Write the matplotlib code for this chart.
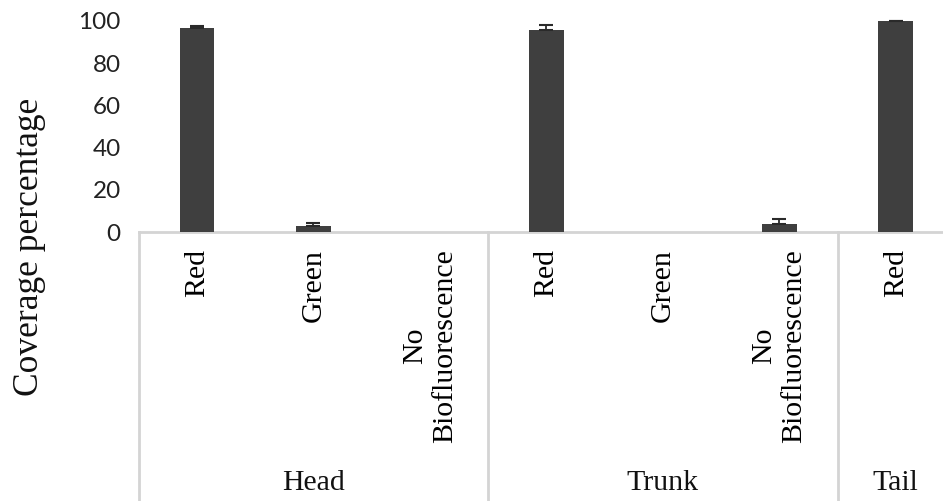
import matplotlib

matplotlib.use("Agg")
import matplotlib.pyplot as plt
import matplotlib.transforms as mtransforms

# Coverage by body region and fluorescence colour
categories = ["Red", "Green", "No\nBiofluorescence",
              "Red", "Green", "No\nBiofluorescence",
              "Red"]
coverage = [96.5, 3.0, 0.0, 95.8, 0.0, 3.8, 99.7]
coverage_err = [1.2, 1.2, 0.0, 2.4, 0.0, 2.3, 0.3]

groups = ["Head", "Trunk", "Tail"]
group_sizes = [3, 3, 1]

y_ticks = [0, 20, 40, 60, 80, 100]

SERIF = "Liberation Serif"
BAR_COLOR = "#3f3f3f"
LINE_COLOR = "#d4d4d4"

fig = plt.figure(figsize=(9.43, 5.01), dpi=100)
fig.patch.set_facecolor("white")

# axes runs slightly past the right edge of the canvas
ax = fig.add_axes([138.75 / 943, 268.7 / 501, 815.25 / 943, 211.6 / 501])
ax.set_facecolor("white")

x = list(range(len(categories)))
ax.bar(x, coverage, width=0.30, color=BAR_COLOR, zorder=3)

# plus-only error bars
has_err = [i for i, e in enumerate(coverage_err) if e > 0]
ax.errorbar(
    [x[i] for i in has_err],
    [coverage[i] for i in has_err],
    yerr=[[0] * len(has_err), [coverage_err[i] for i in has_err]],
    fmt="none", ecolor="#2a2a2a", elinewidth=1.3, capsize=5, capthick=1.5,
    zorder=4, clip_on=False,
)

ax.set_xlim(-0.5, len(categories) - 0.5)
ax.set_ylim(0, 100)

for spine in ax.spines.values():
    spine.set_visible(False)

# y axis: labels only
ax.set_yticks(y_ticks)
ax.set_yticklabels([str(t) for t in y_ticks], family="Lato", fontsize=17.5, color="#222")
ax.tick_params(axis="y", length=0, pad=13)

# category labels, rotated
ax.set_xticks(x)
ax.set_xticklabels(categories, rotation=90, family=SERIF, fontsize=21.5,
                   va="top", ha="center", multialignment="center")
ax.tick_params(axis="x", length=0, pad=12)

# baseline and group dividers below the axis
trans = mtransforms.blended_transform_factory(ax.transData, ax.transAxes)
ax.axhline(0, color=LINE_COLOR, linewidth=2, zorder=2, clip_on=False)
edges = [-0.5]
for n in group_sizes:
    edges.append(edges[-1] + n)
for e in edges[:-1]:
    ax.plot([e, e], [0, -1.4], transform=trans, color=LINE_COLOR,
            linewidth=2, clip_on=False, zorder=2)

# group names
for name, lo, hi in zip(groups, edges[:-1], edges[1:]):
    ax.text((lo + hi) / 2, -1.185, name, transform=trans, ha="center",
            va="center", family=SERIF, fontsize=21.5, color="#111")

fig.text(30 / 943, (501 - 247) / 501, "Coverage percentage", rotation=90,
         ha="center", va="center", family=SERIF, fontsize=25.5, color="#111")

fig.savefig("out.png", dpi=100)
